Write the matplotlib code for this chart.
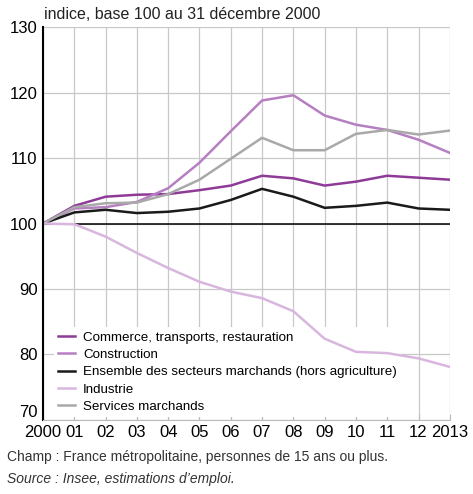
import matplotlib.pyplot as plt

plt.rcParams['font.family'] = ['Liberation Sans Narrow', 'Liberation Sans', 'DejaVu Sans']

years = list(range(2000, 2014))
year_labels = ['2000', '01', '02', '03', '04', '05', '06', '07', '08', '09', '10', '11', '12', '2013']

commerce = [100, 102.7, 104.1, 104.4, 104.5, 105.1, 105.8, 107.3, 106.9, 105.8, 106.4, 107.3, 107.0, 106.7]
construction = [100, 102.3, 102.5, 103.3, 105.4, 109.3, 114.1, 118.8, 119.6, 116.5, 115.1, 114.3, 112.8, 110.8]
ensemble = [100, 101.7, 102.1, 101.6, 101.8, 102.3, 103.6, 105.3, 104.1, 102.4, 102.7, 103.2, 102.3, 102.1]
industrie = [100, 99.9, 98.0, 95.5, 93.2, 91.1, 89.6, 88.6, 86.6, 82.4, 80.4, 80.2, 79.4, 78.1]
services = [100, 102.5, 103.1, 103.2, 104.5, 106.7, 109.9, 113.1, 111.2, 111.2, 113.7, 114.3, 113.6, 114.2]

series = [
    ("Commerce, transports, restauration", commerce, '#8e3b98'),
    ("Construction", construction, '#b67fc1'),
    ("Ensemble des secteurs marchands (hors agriculture)", ensemble, '#1a1a1a'),
    ("Industrie", industrie, '#d8b6de'),
    ("Services marchands", services, '#a9a9a9'),
]

fig = plt.figure(figsize=(4.73, 4.94), dpi=100)
ax = fig.add_axes([0.091, 0.150, 0.860, 0.795])

ax.axhline(100, color='black', lw=1.1, zorder=2)
for name, vals, col in series:
    # the industry curve runs past the legend box, keep it on top
    z = 6 if name == "Industrie" else 3
    ax.plot(years, vals, color=col, lw=1.8, label=name, zorder=z)

ax.set_xlim(2000, 2013)
ax.set_ylim(70, 130)
ax.set_xticks(years)
ax.set_xticklabels(year_labels, fontsize=12)
ax.set_yticks([70, 80, 90, 100, 110, 120, 130])
ax.tick_params(axis='y', length=0, labelsize=12, pad=4)
ax.tick_params(axis='x', direction='in', length=4, color='#bbbbbb', pad=4)
ax.grid(True, color='#c8c8c8', lw=0.9, zorder=0)
ax.get_yticklabels()[0].set_va('bottom')

for side in ['top', 'right']:
    ax.spines[side].set_visible(False)
ax.spines['left'].set_color('black')
ax.spines['left'].set_linewidth(1.5)
ax.spines['left'].set_zorder(7)
ax.spines['bottom'].set_color('#bbbbbb')
ax.spines['bottom'].set_zorder(7)

leg = ax.legend(loc='lower left', bbox_to_anchor=(0.01, -0.01), frameon=True, fancybox=False,
                edgecolor='none', facecolor='white', framealpha=1, fontsize=9.6,
                handlelength=1.3, handletextpad=0.6, labelspacing=0.38, borderpad=0.3)
leg.set_zorder(5)

fig.text(0.093, 0.962, "indice, base 100 au 31 décembre 2000", fontsize=11.5, color='#222222')
fig.text(0.015, 0.066, "Champ : France métropolitaine, personnes de 15 ans ou plus.", fontsize=10, color='#333333')
fig.text(0.015, 0.022, "Source : Insee, estimations d\u2019emploi.", fontsize=10, color='#333333', style='italic')

fig.savefig('out.png', dpi=100)
